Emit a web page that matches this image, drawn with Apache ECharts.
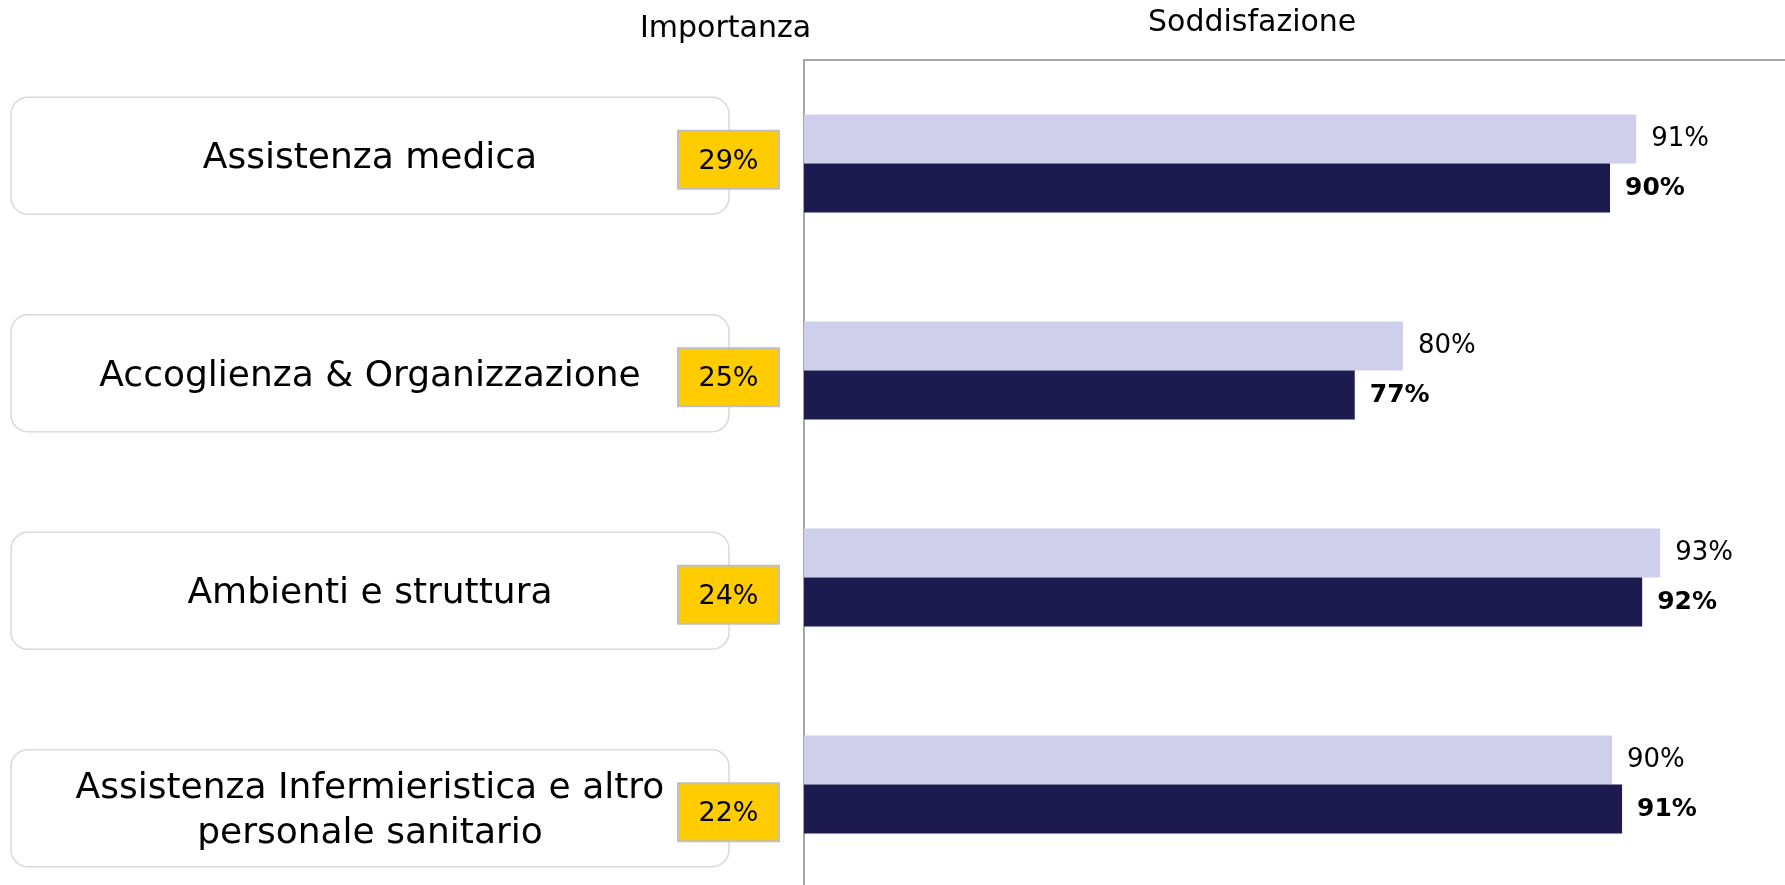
<!DOCTYPE html>
<html lang="it">
<head>
    <meta charset="UTF-8">
    <title>Importanza e Soddisfazione</title>
    <script src="https://cdnjs.cloudflare.com/ajax/libs/echarts/6.0.0/echarts.min.js"></script>
    <style>
        body { margin: 0; padding: 0; background: #fff; }
        #main { width: 1785px; height: 885px; }
    </style>
</head>
<body>
    <div id="main"></div>
    <script>
        // dati
        const categories = [
            'Assistenza medica',
            'Accoglienza & Organizzazione',
            'Ambienti e struttura',
            'Assistenza Infermieristica e altro\npersonale sanitario'
        ];
        const importanza = [29, 25, 24, 22];
        const soddPrecedente = [91.4, 79.8, 92.6, 90.2]; // barra chiara
        const soddAttuale = [90.1, 77.4, 91.7, 90.7];    // barra scura

        const FONT = 'DejaVu Sans';
        const axisGrey = { color: '#a6a6a6', width: 2 };

        const myChart = echarts.init(document.getElementById('main'));

        // riquadri a sinistra (etichetta + importanza)
        function renderBox(params, api) {
            const idx = api.value(1);
            const cy = api.coord([0, idx])[1];
            const cs = params.coordSys;
            const yc = cy + 4;
            return {
                type: 'group',
                children: [
                    { type: 'rect', shape: { x: cs.x + 11, y: cy - 58.5, width: 718, height: 117, r: 17 },
                      style: { fill: '#fff', stroke: '#d9d9d9', lineWidth: 1.5 } },
                    { type: 'text', style: { text: categories[idx], x: cs.x + 370, y: cy + 3,
                      align: 'center', verticalAlign: 'middle', textAlign: 'center', textVerticalAlign: 'middle',
                      font: '36px "' + FONT + '"', lineHeight: 45, fill: '#000' } },
                    { type: 'rect', shape: { x: cs.x + 678, y: yc - 29, width: 101, height: 58 },
                      style: { fill: '#FFCC00', stroke: '#bfbfbf', lineWidth: 2 } },
                    { type: 'text', style: { text: api.value(2) + '%', x: cs.x + 728.5, y: yc + 2,
                      align: 'center', verticalAlign: 'middle', textAlign: 'center', textVerticalAlign: 'middle',
                      font: '27px "' + FONT + '"', fill: '#000' } }
                ]
            };
        }

        const option = {
            backgroundColor: '#fff',
            animation: false,
            textStyle: { fontFamily: FONT },
            title: [
                { text: 'Importanza', left: 640, top: 14, padding: 0,
                  textStyle: { fontSize: 30, fontWeight: 'normal', color: '#000', fontFamily: FONT } },
                { text: 'Soddisfazione', left: 1148, top: 8, padding: 0,
                  textStyle: { fontSize: 30, fontWeight: 'normal', color: '#000', fontFamily: FONT } }
            ],
            grid: [
                { left: 804, top: 60, width: 1005, height: 828, outerBoundsMode: 'none', containLabel: false },
                { left: 0, top: 47, width: 800, height: 870, outerBoundsMode: 'none', containLabel: false }
            ],
            xAxis: [
                { type: 'value', gridIndex: 0, min: 50, max: 100, position: 'top',
                  axisLine: { show: true, lineStyle: axisGrey }, axisTick: { show: false },
                  axisLabel: { show: false }, splitLine: { show: false } },
                { type: 'value', gridIndex: 1, min: 0, max: 1, show: false }
            ],
            yAxis: [
                { type: 'category', gridIndex: 0, inverse: true, data: categories,
                  axisLine: { show: true, onZero: false, lineStyle: axisGrey }, axisTick: { show: false },
                  axisLabel: { show: false } },
                { type: 'category', gridIndex: 1, inverse: true, data: categories, show: false }
            ],
            series: [
                {
                    name: 'Precedente', type: 'bar', xAxisIndex: 0, yAxisIndex: 0,
                    data: soddPrecedente, barWidth: 49, barGap: '0%',
                    itemStyle: { color: '#cfcfec' },
                    label: { show: true, position: 'right', distance: 15,
                             formatter: p => Math.round(p.value) + '%',
                             fontSize: 26, color: '#000', fontFamily: FONT }
                },
                {
                    name: 'Attuale', type: 'bar', xAxisIndex: 0, yAxisIndex: 0,
                    data: soddAttuale, barWidth: 49, barGap: '0%',
                    itemStyle: { color: '#1c1a4e' },
                    label: { show: true, position: 'right', distance: 15,
                             formatter: p => Math.round(p.value) + '%',
                             fontSize: 25, fontWeight: 'bold', color: '#000', fontFamily: FONT }
                },
                {
                    type: 'custom', xAxisIndex: 1, yAxisIndex: 1, clip: false,
                    data: importanza.map((v, i) => [0, i, v]),
                    encode: { x: 0, y: 1 },
                    renderItem: renderBox
                }
            ]
        };
        myChart.setOption(option);
        window.addEventListener('resize', () => myChart.resize());
    </script>
</body>
</html>
